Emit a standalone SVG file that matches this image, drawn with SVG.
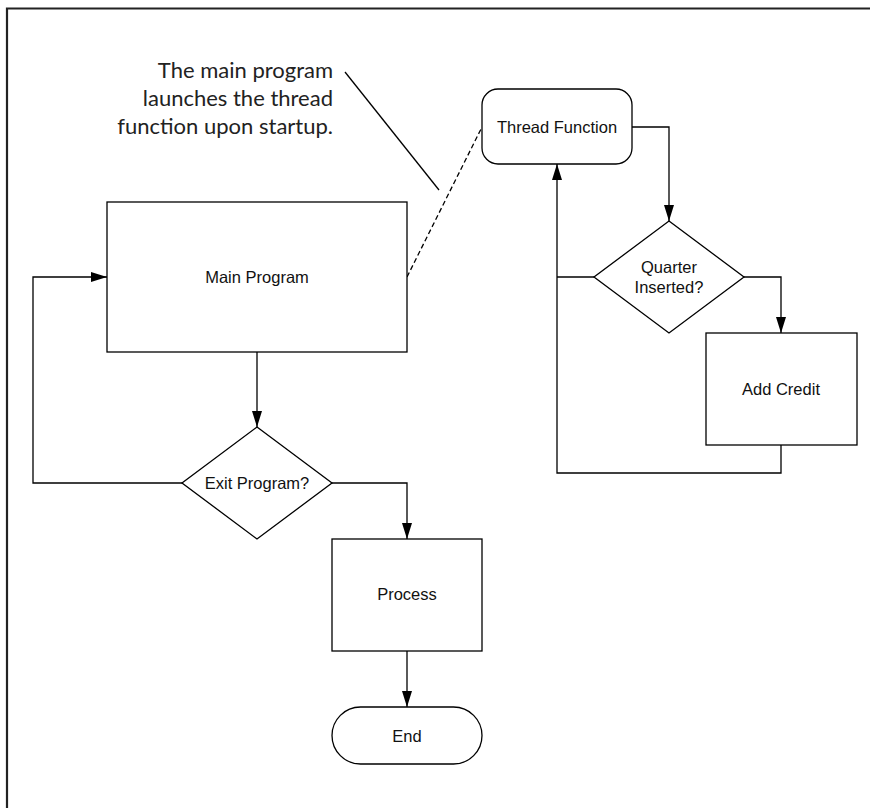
<svg xmlns="http://www.w3.org/2000/svg" width="870" height="808" viewBox="0 0 870 808">
<defs>
<marker id="arr" viewBox="0 0 16 10" refX="16" refY="5" markerWidth="16" markerHeight="10.5" markerUnits="userSpaceOnUse" orient="auto">
<path d="M0,0 L16,5 L0,10 Z" fill="#000"/>
</marker>
<style>
.shape{fill:#fff;stroke:#000;stroke-width:1.3}
.lbl{font-family:"Liberation Sans",Arial,sans-serif;font-size:16.5px;fill:#111;text-anchor:middle}
.conn{fill:none;stroke:#000;stroke-width:1.3}
.arrow{marker-end:url(#arr)}
.note{font-family:"Lato","Liberation Sans",sans-serif;font-size:22px;fill:#222;text-anchor:end}
</style>
</defs>
<rect width="870" height="808" fill="#fff"/>
<path d="M7,808 L7,8.5 L870,8.5" fill="none" stroke="#222" stroke-width="2.2"/>

<g id="connectors">
<path class="conn arrow" d="M182,483 L33,483 L33,277 L107,277"/>
<path class="conn arrow" d="M257,352 L257,427"/>
<path class="conn arrow" d="M332,483 L407,483 L407,539"/>
<path class="conn arrow" d="M407,651 L407,707"/>
<path class="conn arrow" d="M632,127 L669,127 L669,221"/>
<path class="conn arrow" d="M744,277 L781,277 L781,333"/>
<path class="conn arrow" d="M781,445 L781,473 L557,473 L557,164"/>
<path class="conn" d="M594,277 L557,277"/>
<path class="conn" d="M407,277 L482,127" stroke-width="1.6" stroke-dasharray="5,3"/>
<path class="conn" d="M345,72 L439,190" stroke-width="1.1"/>
</g>

<g id="note">
<text class="note" x="333" y="78">The main program</text>
<text class="note" x="333" y="106">launches the thread</text>
<text class="note" x="333" y="134">function upon startup.</text>
</g>

<g id="main-program">
<rect class="shape" x="107" y="202" width="300" height="150"/>
<text class="lbl" x="257" y="283">Main Program</text>
</g>

<g id="exit-program">
<path class="shape" d="M257,427 L332,483 L257,539 L182,483 Z"/>
<text class="lbl" x="257" y="489">Exit Program?</text>
</g>

<g id="process">
<rect class="shape" x="332" y="539" width="150" height="112"/>
<text class="lbl" x="407" y="600">Process</text>
</g>

<g id="end">
<rect class="shape" x="332" y="707" width="150" height="57" rx="28.5" ry="28.5"/>
<text class="lbl" x="407" y="742">End</text>
</g>

<g id="thread-function">
<rect class="shape" x="482" y="89" width="150" height="75" rx="16" ry="16"/>
<text class="lbl" x="557" y="133">Thread Function</text>
</g>

<g id="quarter-inserted">
<path class="shape" d="M669,221 L744,277 L669,333 L594,277 Z"/>
<text class="lbl" x="669" y="273">Quarter</text>
<text class="lbl" x="669" y="293">Inserted?</text>
</g>

<g id="add-credit">
<rect class="shape" x="706" y="333" width="151" height="112"/>
<text class="lbl" x="781" y="395">Add Credit</text>
</g>
</svg>
